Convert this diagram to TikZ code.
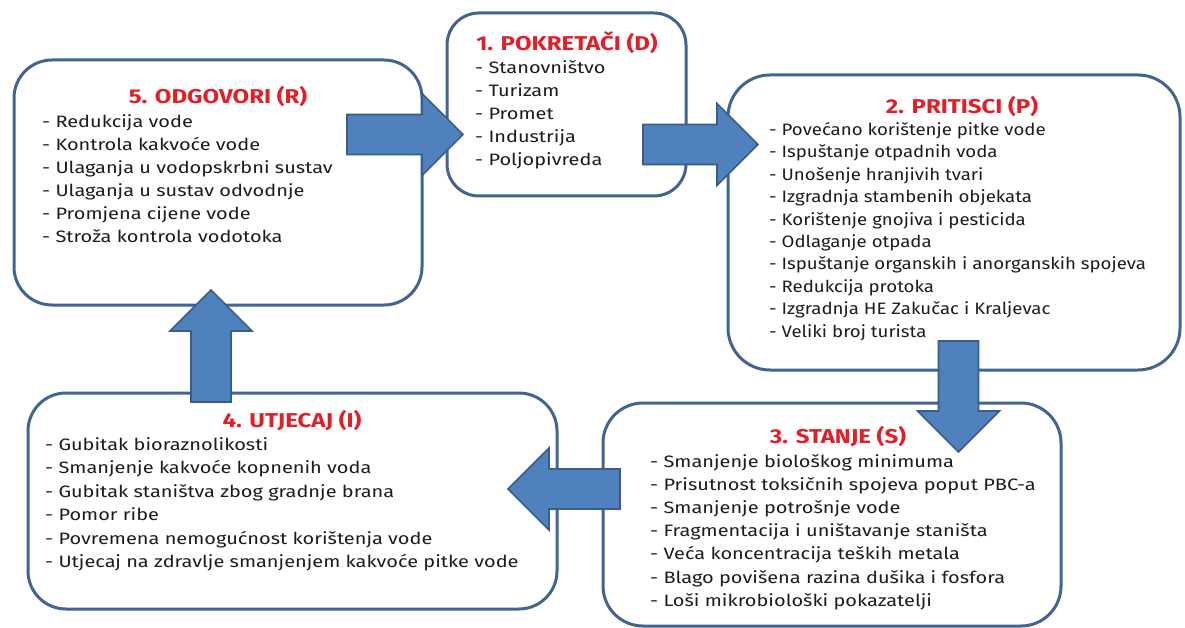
\documentclass[tikz,border=0pt]{standalone}
\usepackage{fontspec}
\setmainfont{Fira Sans}
\newfontfamily\wideface[FakeStretch=1.21]{Fira Sans}
\newfontfamily\midface[FakeStretch=1.13]{Fira Sans}
\newfontfamily\titleface[FakeStretch=1.2]{Fira Sans}
\usetikzlibrary{positioning, calc}

\definecolor{boxline}{RGB}{65,100,145}
\definecolor{arrowfill}{RGB}{79,129,189}
\definecolor{arrowline}{RGB}{56,93,138}
\definecolor{titlered}{RGB}{226,30,38}
\definecolor{itemtext}{RGB}{28,28,28}

% block arrow from #1 to the tip #2
\newcommand{\bigarrow}[2]{%
    \coordinate (hb) at ($(#2)!41pt!(#1)$);
    \draw[block_arrow] ($(#1)!20pt!90:(#2)$) -- ($(hb)!20pt!90:(#2)$) -- ($(hb)!41pt!90:(#2)$) -- (#2)
        -- ($(hb)!41pt!-90:(#2)$) -- ($(hb)!20pt!-90:(#2)$) -- ($(#1)!20pt!-90:(#2)$) -- cycle;
}

\begin{document}
\begin{tikzpicture}
    [
        x=1pt, y=-1pt,
        box_node/.style={draw=boxline, line width=3pt, rounded corners=38pt, fill=white},
        title_text/.style={font=\fontsize{20}{23}\titleface\bfseries, text=titlered, inner sep=0pt},
        item_text/.style={font=\fontsize{16.5}{#1}\wideface, text=itemtext, align=left, inner sep=0pt, anchor=north west},
        item_text/.default=23,
        block_arrow/.style={draw=arrowline, fill=arrowfill, line width=1.6pt, line join=miter},
    ]
        \useasboundingbox (0,0) rectangle (1185,628);

        \node[box_node, minimum width=408pt, minimum height=245pt] (odgovori) at (218,182.5) {} ;
        \node[box_node, minimum width=239pt, minimum height=183pt, rounded corners=32pt] (pokretaci) at (566.5,104.5) {} ;
        \node[box_node, minimum width=452pt, minimum height=295pt, rounded corners=42pt] (pritisci) at (954,222.5) {} ;
        \node[box_node, minimum width=529pt, minimum height=216pt] (utjecaj) at (292.5,501) {} ;
        \node[box_node, minimum width=458pt, minimum height=223pt, rounded corners=40pt] (stanje) at (832,514.5) {} ;

        \node[title_text] (t_odgovori) at (218,97) {5. ODGOVORI (R)} ;
        \node[title_text] (t_pokretaci) at (567,43) {1. POKRETAČI (D)} ;
        \node[title_text] (t_pritisci) at (962,107) {2. PRITISCI (P)} ;
        \node[title_text] (t_stanje) at (838,437) {3. STANJE (S)} ;
        \node[title_text] (t_utjecaj) at (292,421) {4. UTJECAJ (I)} ;

        \node[item_text] (l_odgovori) at (42,114) {- Redukcija vode\\- Kontrola kakvoće vode\\- Ulaganja u vodopskrbni sustav\\- Ulaganja u sustav odvodnje\\- Promjena cijene vode\\- Stroža kontrola vodotoka} ;
        \node[item_text] (l_pokretaci) at (475,60) {- Stanovništvo\\- Turizam\\- Promet\\- Industrija\\- Poljopivreda} ;
        \node[item_text=22.4, font=\fontsize{16.5}{22.4}\midface] (l_pritisci) at (769,122) {- Povećano korištenje pitke vode\\- Ispuštanje otpadnih voda\\- Unošenje hranjivih tvari\\- Izgradnja stambenih objekata\\- Korištenje gnojiva i pesticida\\- Odlaganje otpada\\- Ispuštanje organskih i anorganskih spojeva\\- Redukcija protoka\\- Izgradnja HE Zakučac i Kraljevac\\- Veliki broj turista} ;
        \node[item_text=23.2] (l_stanje) at (650,454) {- Smanjenje biološkog minimuma\\- Prisutnost toksičnih spojeva poput PBC-a\\- Smanjenje potrošnje vode\\- Fragmentacija i uništavanje staništa\\- Veća koncentracija teških metala\\- Blago povišena razina dušika i fosfora\\- Loši mikrobiološki pokazatelji} ;
        \node[item_text=23.5] (l_utjecaj) at (45,437) {- Gubitak bioraznolikosti\\- Smanjenje kakvoće kopnenih voda\\- Gubitak staništva zbog gradnje brana\\- Pomor ribe\\- Povremena nemogućnost korištenja vode\\- Utjecaj na zdravlje smanjenjem kakvoće pitke vode} ;

        \coordinate (s_od_po) at (347,134.5) ;
        \coordinate (e_od_po) at (463,134.5) ;
        \coordinate (s_po_pr) at (643,144.5) ;
        \coordinate (e_po_pr) at (758,144.5) ;
        \coordinate (s_pr_st) at (958.5,341) ;
        \coordinate (e_pr_st) at (958.5,452) ;
        \coordinate (s_st_ut) at (620,489) ;
        \coordinate (e_st_ut) at (508,489) ;
        \coordinate (s_ut_od) at (211,402) ;
        \coordinate (e_ut_od) at (211,290) ;

        \bigarrow{s_od_po}{e_od_po}
        \bigarrow{s_po_pr}{e_po_pr}
        \bigarrow{s_pr_st}{e_pr_st}
        \bigarrow{s_st_ut}{e_st_ut}
        \bigarrow{s_ut_od}{e_ut_od}
    \end{tikzpicture}
\end{document}
